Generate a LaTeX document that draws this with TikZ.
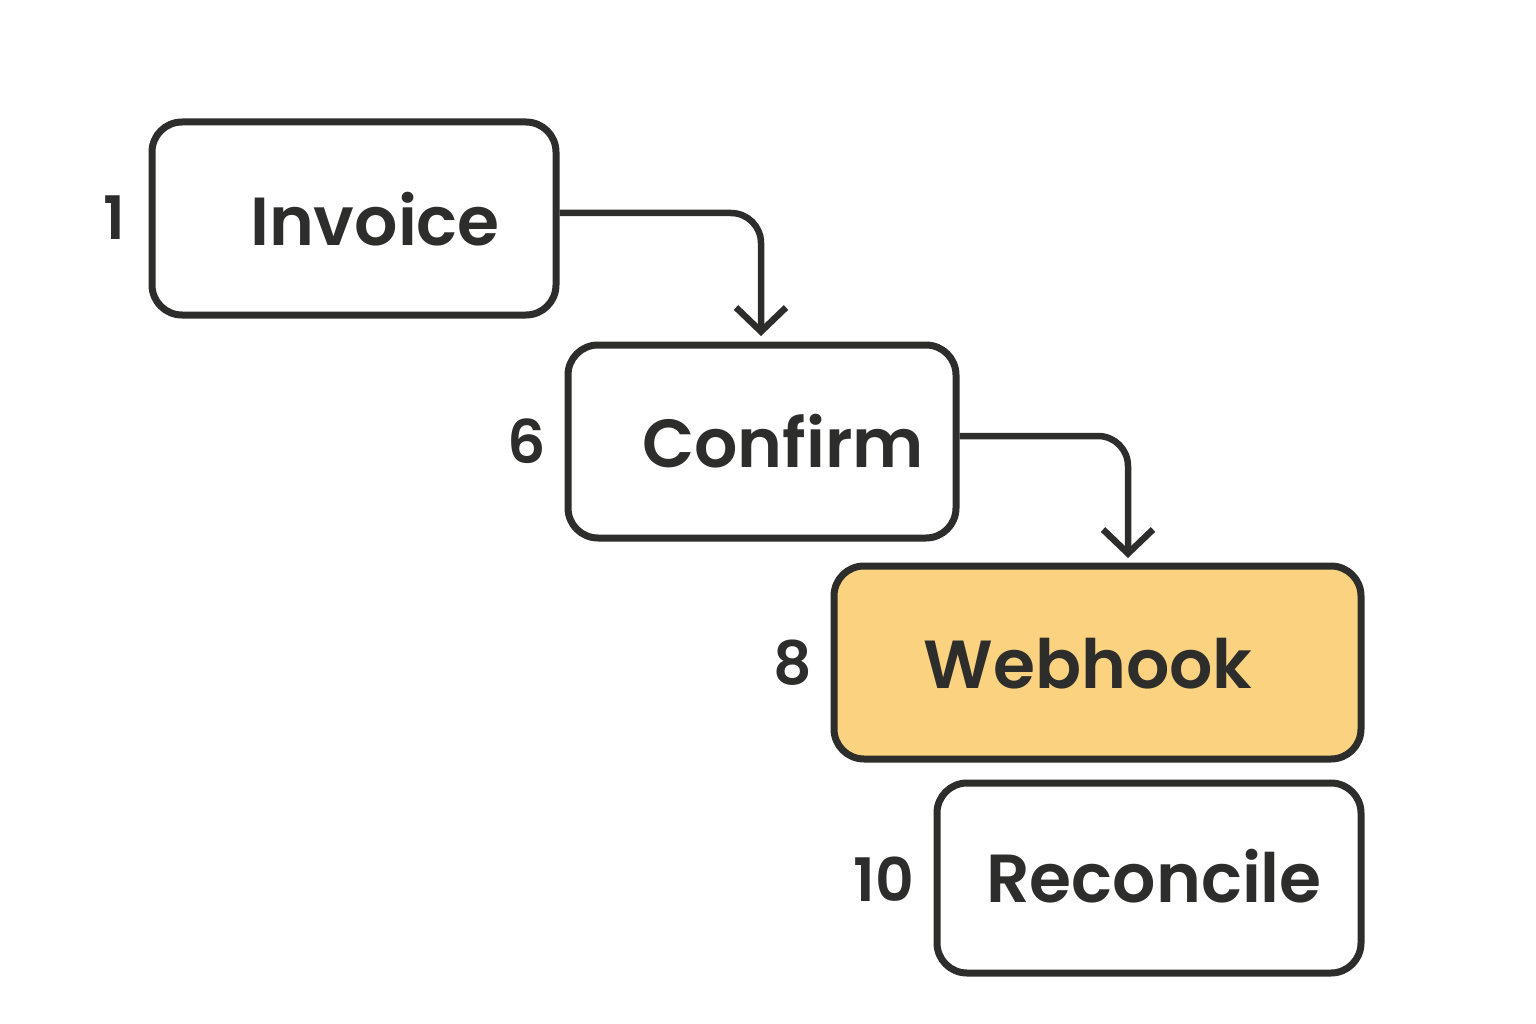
\documentclass[tikz,border=0pt]{standalone}
\usepackage{fontspec}
\setmainfont{Poppins SemiBold}
\usetikzlibrary{arrows.meta}
\definecolor{ink}{RGB}{45,45,43}
\definecolor{hl}{RGB}{250,210,128}
\tikzset{
  box/.style={draw=ink, line width=7pt, rounded corners=30pt, inner sep=0pt},
  lbl/.style={text=ink, font=\fontsize{68}{74}\selectfont, anchor=base, inner sep=0pt},
  num/.style={text=ink, font=\fontsize{60}{66}\selectfont, anchor=base, inner sep=0pt},
  flow/.style={draw=ink, line width=6.5pt, rounded corners=30pt, -{Straight Barb[length=24pt,width=50pt,line width=6.5pt]}}
}
\begin{document}
\begin{tikzpicture}[x=1pt,y=-1pt]
\useasboundingbox (0,0) rectangle (1536,1024);
\node[box, minimum width=404pt, minimum height=193pt] (inv) at (354,218.5) {};
\node[box, minimum width=388pt, minimum height=193pt] (con) at (762,441.5) {};
\node[box, fill=hl, minimum width=527pt, minimum height=193pt] (web) at (1097.5,662.5) {};
\node[box, minimum width=424pt, minimum height=190pt] (rec) at (1149,878) {};
\node[lbl] (tinv) at (375,246) {Invoice};
\node[lbl] (tcon) at (783,467) {Confirm};
\node[lbl] (tweb) at (1088,688) {Webhook};
\node[lbl] (trec) at (1154,902) {Reconcile};
\node[num] (n1) at (114,240) {1};
\node[num] (n6) at (527,463) {6};
\node[num] (n8) at (793,684) {8};
\node[num] (n10) at (884,901) {10};
\coordinate (a1s) at (inv.east |- 0,213);
\coordinate (a1e) at (761,336);
\coordinate (a2s) at (con.east |- 0,436);
\coordinate (a2e) at (1128,558);
\draw[flow] (a1s) -| (a1e);
\draw[flow] (a2s) -| (a2e);
\end{tikzpicture}
\end{document}
